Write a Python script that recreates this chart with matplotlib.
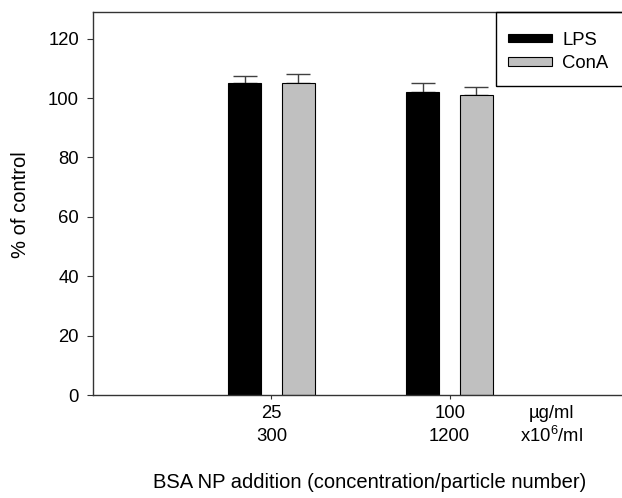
import matplotlib
matplotlib.use("Agg")
import matplotlib.pyplot as plt
from matplotlib.patches import Rectangle
from matplotlib.transforms import blended_transform_factory

plt.rcParams['font.family'] = ['Liberation Sans', 'DejaVu Sans']
plt.rcParams['mathtext.fontset'] = 'custom'
plt.rcParams['mathtext.rm'] = 'Liberation Sans'
plt.rcParams['mathtext.it'] = 'Liberation Sans'

# Data
conc_labels = ["25", "100"]
particle_labels = ["300", "1200"]
series = ["LPS", "ConA"]
lps_values = [105.0, 102.0]
lps_errors = [2.5, 3.0]
cona_values = [105.0, 101.0]
cona_errors = [3.0, 2.8]
colors = ["#000000", "#c0c0c0"]

FS_TICK = 13.3
FS_LABEL = 14.5
FS_LEG = 13.3
fig = plt.figure(figsize=(6.22, 4.98), dpi=100)
W, H = 622, 498
left, right, top, bottom = 93, 628, 12, 395
ax = fig.add_axes([left / W, 1 - bottom / H, (right - left) / W, (bottom - top) / H])

positions = [1, 2]
offset = 0.15
width = 0.185
for vals, errs, col, name, sgn in [(lps_values, lps_errors, colors[0], series[0], -1),
                                     (cona_values, cona_errors, colors[1], series[1], 1)]:
    xs = [p + sgn * offset for p in positions]
    ax.bar(xs, vals, width=width, color=col, edgecolor="black", linewidth=0.8, label=name, zorder=2)
    ax.errorbar(xs, vals, yerr=[[0] * len(errs), errs], fmt="none", ecolor="#404040",
                elinewidth=1.0, capsize=8.5, capthick=1.0, zorder=1)

ax.set_xlim(0, 3)
ax.set_ylim(0, 129)
ax.set_yticks([0, 20, 40, 60, 80, 100, 120])
ax.set_xticks(positions)
ax.set_xticklabels([f"{c}\n{p}" for c, p in zip(conc_labels, particle_labels)], linespacing=1.48)
ax.tick_params(axis="both", direction="out", labelsize=FS_TICK, color="#333333")
ax.tick_params(axis="x", length=3, pad=4)
ax.tick_params(axis="y", length=4, pad=6)
for s in ax.spines.values():
    s.set_linewidth(1.0)
    s.set_color("#333333")

# Unit labels next to the concentration rows
trans = blended_transform_factory(ax.transData, fig.transFigure)
ax.text(2.57, 1 - 413 / H, "µg/ml", transform=trans, ha="center", va="center", fontsize=FS_TICK)
ax.text(2.57, 1 - 436 / H, "x10$^{6}$/ml", transform=trans, ha="center", va="center", fontsize=FS_TICK)

fig.text(21 / W, 1 - 205 / H, "% of control", rotation=90, ha="center", va="center", fontsize=FS_LABEL)
fig.text(370 / W, 1 - 482 / H, "BSA NP addition (concentration/particle number)",
         ha="center", va="center", fontsize=FS_LABEL)

# Legend entries, with a square box hanging from the top spine
leg = ax.legend(loc="center left", bbox_to_anchor=(508 / W, 1 - 52 / H),
                bbox_transform=fig.transFigure,
                fontsize=FS_LEG, frameon=False,
                handlelength=2.4, handleheight=0.35, handletextpad=0.55,
                labelspacing=0.36, borderpad=0, borderaxespad=0)
for h in leg.legend_handles:
    h.set_linewidth(0.8)
box = Rectangle((496 / W, 1 - 86 / H), (660 - 496) / W, (86 - 12) / H,
                transform=fig.transFigure, fill=False, edgecolor="black", linewidth=1.0)
fig.add_artist(box)

fig.savefig("out.png", dpi=100)
